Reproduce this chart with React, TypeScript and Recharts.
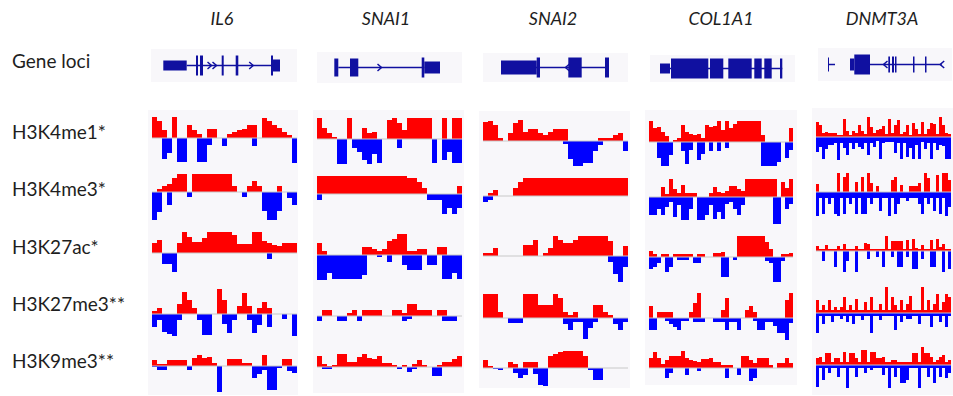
import React from "react";
import { BarChart, Bar, XAxis, YAxis, ReferenceLine, ReferenceArea, ComposedChart, Scatter, Line } from "recharts";

const genes = ["IL6", "SNAI1", "SNAI2", "COL1A1", "DNMT3A"];
const marks = ["H3K4me1*", "H3K4me3*", "H3K27ac*", "H3K27me3**", "H3K9me3**"];

// ---- signal per bin: up = red (positive), down = blue (negative, magnitude) ----
// IL6
const il6K4me1Up = [21,17,8,0,21,0,0,13,8,4,0,9,9,0,0,4,6,8,9,13,13,0,20,17,13,10,6,3,0];
const il6K4me1Down = [0,0,21,15,0,24,24,0,0,24,24,7,0,0,8,0,0,0,0,0,8,0,0,0,0,0,0,0,25];
const il6K4me3Up = [0,3,6,8,14,18,18,0,18,18,18,18,18,18,18,18,6,0,0,6,11,6,0,0,0,6,0,0,0];
const il6K4me3Down = [28,20,0,13,0,0,0,5,0,0,0,0,0,0,0,0,0,0,5,0,0,0,19,28,28,19,0,6,13];
const il6K27acUp = [10,13,0,0,0,10,21,16,11,11,15,21,21,21,21,21,18,9,9,9,21,21,12,10,8,7,10,10,10];
const il6K27acDown = [0,0,11,11,19,0,0,0,0,0,0,0,0,0,0,0,0,0,0,0,0,0,0,6,0,0,0,0,0];
const il6K27me3Up = [3,6,0,0,0,10,22,14,6,0,0,0,0,25,14,0,0,8,21,8,0,6,12,6,0,0,0,0,0];
const il6K27me3Down = [13,6,18,20,22,6,0,0,0,6,21,21,0,0,10,19,6,0,0,6,19,11,0,13,0,0,5,0,22];
const il6K9me3Up = [6,2,2,6,6,6,6,0,8,11,8,9,3,0,0,7,7,7,3,3,0,0,11,0,0,0,7,7,0];
const il6K9me3Down = [1,4,4,0,0,0,0,4,0,0,0,0,0,26,0,0,0,0,0,0,12,8,4,24,24,2,0,5,7];

// SNAI1
const snai1K4me1Up = [21,11,6,2,0,0,21,0,0,11,6,7,0,0,19,21,16,9,21,21,21,21,21,0,0,21,0,21,21];
const snai1K4me1Down = [0,0,0,0,25,25,0,9,13,21,25,15,24,0,0,0,9,0,0,0,0,0,0,24,0,21,13,24,24];
const snai1K4me3Up = [18,18,18,18,18,18,18,18,18,18,18,18,18,18,18,18,18,18,16,16,12,6,0,0,0,0,0,0,8];
const snai1K4me3Down = [6,0,0,0,0,0,0,0,0,0,0,0,0,0,0,0,0,0,0,0,0,0,6,6,6,20,14,20,14];
const snai1K27acUp = [12,4,0,0,0,0,0,0,0,8,8,6,4,6,14,16,21,21,4,4,6,6,0,0,8,8,0,0,0];
const snai1K27acDown = [25,25,18,24,24,24,24,24,24,20,0,0,2,0,7,0,0,10,15,15,15,0,10,10,0,24,24,18,24];
const snai1K27me3Up = [0,6,6,0,0,0,3,6,0,6,6,6,6,0,0,6,6,3,12,12,6,6,6,0,6,6,0,0,0];
const snai1K27me3Down = [5,0,0,0,5,5,0,0,5,0,0,0,0,0,0,0,0,5,3,0,0,0,0,0,0,5,5,5,0];
const snai1K9me3Up = [11,3,1,2,13,13,5,5,10,13,9,8,11,4,4,2,0,2,0,3,7,2,0,0,2,5,5,8,11];
const snai1K9me3Down = [0,2,2,0,0,0,0,0,0,0,0,0,0,0,0,0,2,0,5,2,0,0,0,9,9,0,0,0,0];

// SNAI2
const snai2K4me1Up = [19,20,16,3,0,8,18,21,9,12,12,8,6,9,12,12,12,0,0,0,0,0,0,3,3,3,6,8,0];
const snai2K4me1Down = [0,0,0,0,0,0,0,0,0,0,0,0,0,0,0,0,3,18,25,25,22,22,10,4,0,0,0,0,10];
const snai2K4me3Up = [0,3,6,0,0,0,8,14,18,18,18,18,18,18,18,18,18,18,18,18,18,18,18,18,18,18,18,18,18];
const snai2K4me3Down = [6,4,0,0,0,0,0,0,0,0,0,0,0,0,0,0,0,0,0,0,0,0,0,0,0,0,0,0,0];
const snai2K27acUp = [3,3,8,0,0,0,0,0,11,11,16,0,3,8,20,16,13,13,16,20,20,20,20,20,20,15,0,0,10];
const snai2K27acDown = [0,0,0,0,0,0,0,0,0,0,0,0,0,0,0,0,0,0,0,0,0,0,0,0,0,6,18,26,11];
const snai2K27me3Up = [24,24,24,6,0,0,0,0,24,24,24,13,13,13,24,20,6,3,6,0,0,0,13,13,6,3,0,0,0];
const snai2K27me3Down = [0,0,0,0,0,5,5,5,0,0,0,0,0,0,0,0,6,12,4,4,21,10,4,0,0,0,6,12,4];
const snai2K9me3Up = [8,2,0,0,0,6,4,0,6,6,6,0,0,12,14,16,17,17,17,17,12,0,0,0,0,0,0,0,0];
const snai2K9me3Down = [0,0,1,2,0,0,5,10,7,0,6,17,18,0,0,0,0,0,0,0,0,2,12,12,0,0,0,0,0];

// COL1A1
const col1a1K4me1Up = [21,14,15,10,6,0,2,4,17,10,8,7,8,4,17,15,16,21,12,21,14,18,21,21,21,21,21,21,7,0,0,0,0,0,0,14];
const col1a1K4me1Down = [0,0,16,24,24,13,0,0,9,22,8,0,18,12,0,9,0,9,0,6,0,0,0,0,0,0,0,0,24,24,24,24,20,0,16,8];
const col1a1K4me3Up = [0,0,0,10,3,18,8,4,12,4,4,4,0,0,0,4,10,5,4,6,11,11,8,6,18,18,18,18,18,18,18,18,0,15,9,18];
const col1a1K4me3Down = [18,18,12,18,10,5,20,8,23,23,12,0,23,23,18,8,22,15,22,7,5,12,18,8,0,0,0,0,0,0,0,27,27,0,12,7];
const col1a1K27acUp = [6,3,0,3,3,0,3,3,3,3,3,0,3,3,0,0,4,4,5,0,0,0,21,21,21,21,21,21,21,15,8,0,0,3,3,4];
const col1a1K27acDown = [12,10,6,0,15,10,0,3,3,3,0,6,6,0,0,0,0,0,20,20,0,3,0,0,0,0,0,0,0,4,6,25,25,4,0,0];
const col1a1K27me3Up = [12,0,6,6,6,6,0,0,0,0,6,15,25,0,0,0,0,0,8,20,0,0,0,0,8,12,6,0,0,0,0,0,0,0,18,25];
const col1a1K27me3Down = [12,12,0,0,3,6,9,12,3,3,0,4,4,4,0,0,4,4,4,12,4,4,12,0,0,0,3,12,12,4,4,8,15,15,22,5];
const col1a1K9me3Up = [10,16,10,4,8,12,12,12,17,10,8,7,6,9,9,10,6,6,3,3,3,0,0,12,12,8,5,10,10,10,3,0,5,5,10,5];
const col1a1K9me3Down = [0,0,0,0,10,5,0,0,0,7,0,0,3,0,0,0,0,0,0,10,0,0,7,0,0,13,10,0,0,0,0,0,0,0,0,0];

// DNMT3A
const dnmt3aK4me1Up = [15,12,4,5,4,4,4,2,2,18,6,2,6,4,12,6,3,20,10,4,7,8,11,3,18,4,12,17,3,5,12,2,14,8,3,15,3,8,14,13,3,20,12,4,3];
const dnmt3aK4me1Down = [15,10,22,12,8,8,6,23,6,11,18,6,12,6,10,12,6,18,6,10,4,22,6,5,5,5,16,6,22,6,20,11,22,8,22,5,12,6,22,6,13,8,9,22,22];
const dnmt3aK4me3Up = [8,0,0,0,0,0,0,19,0,15,19,0,0,10,0,15,0,19,9,0,6,0,0,0,0,12,15,0,7,0,0,6,6,6,9,0,19,14,0,0,17,0,19,19,12];
const dnmt3aK4me3Down = [24,6,22,6,12,6,22,24,6,22,6,12,6,22,6,22,22,6,12,6,6,19,6,6,24,6,22,12,6,6,9,6,6,6,12,22,6,12,6,19,6,22,6,24,15];
const dnmt3aK27acUp = [5,2,2,6,2,2,2,5,2,7,2,2,2,5,2,2,8,7,2,2,2,2,2,15,2,10,10,10,10,2,11,2,12,3,2,6,2,2,11,2,12,4,7,2,2];
const dnmt3aK27acDown = [0,0,10,0,0,0,16,0,0,21,10,0,0,21,0,0,0,8,0,0,6,0,16,0,0,6,0,16,16,0,6,0,18,18,0,8,0,0,16,16,0,0,21,0,18];
const dnmt3aK27me3Up = [13,3,8,3,13,3,6,3,6,16,3,8,3,14,3,3,11,3,16,3,3,9,3,26,3,16,8,3,13,3,9,17,3,3,3,26,3,13,3,9,19,3,11,19,16];
const dnmt3aK27me3Down = [20,3,11,3,3,9,3,3,6,3,9,3,11,3,3,7,3,3,20,3,3,7,3,3,3,3,17,3,9,3,6,6,3,3,11,3,3,3,14,3,3,9,3,14,3];
const dnmt3aK9me3Up = [7,8,3,12,12,3,7,7,3,13,3,12,12,7,3,15,15,3,13,13,7,7,8,3,3,5,5,3,3,3,3,3,12,12,3,18,12,12,8,3,5,8,10,3,5];
const dnmt3aK9me3Down = [22,3,15,3,8,3,3,12,3,3,23,3,3,12,3,3,8,3,5,3,3,3,10,3,23,3,12,3,18,18,15,3,3,3,23,3,3,12,3,18,3,12,3,13,8];

// ---- gene models: exons [start, end, half height]; introns [start, end]; strand chevrons [x, dir] ----
const il6Exons = [[12.3,35.7,5],[45,47,10],[49,52,10],[70.7,72.7,10],[84.7,87.3,10],[120,122,10],[122,129,6]];
const il6Introns = [[35.7,122]];
const il6Chevrons = [[59,1],[64,1],[100.7,1]];
const snai1Exons = [[17.3,21.3,9],[33,41.3,9],[104.7,107.3,10],[107.3,123,6]];
const snai1Introns = [[21.3,107.3]];
const snai1Chevrons = [[63,1]];
const snai2Exons = [[18,53.7,7],[53.7,57,10],[85.3,98.7,10],[122,126,10]];
const snai2Introns = [[18,122]];
const snai2Chevrons = [[84,-1]];
const col1a1Exons = [[10,20,5],[21,58.3,10],[60,73.3,10],[78.3,101.7,10],[104.3,111.7,10],[114.3,121.7,10],[130,132.3,10]];
const col1a1Introns = [[20,132.3]];
const col1a1Chevrons: number[][] = [];
const dnmt3aExons = [[10,11,7],[32,36.3,6],[36.3,52,10],[70.3,72,8],[74,76,8],[77,78.5,8],[95,96.5,8],[107,108.5,8]];
const dnmt3aIntrons = [[10,17],[52,123.7]];
const dnmt3aChevrons = [[67,-1],[123.7,-1]];

const tracks = [
  [[il6K4me1Up, il6K4me1Down], [il6K4me3Up, il6K4me3Down], [il6K27acUp, il6K27acDown], [il6K27me3Up, il6K27me3Down], [il6K9me3Up, il6K9me3Down]],
  [[snai1K4me1Up, snai1K4me1Down], [snai1K4me3Up, snai1K4me3Down], [snai1K27acUp, snai1K27acDown], [snai1K27me3Up, snai1K27me3Down], [snai1K9me3Up, snai1K9me3Down]],
  [[snai2K4me1Up, snai2K4me1Down], [snai2K4me3Up, snai2K4me3Down], [snai2K27acUp, snai2K27acDown], [snai2K27me3Up, snai2K27me3Down], [snai2K9me3Up, snai2K9me3Down]],
  [[col1a1K4me1Up, col1a1K4me1Down], [col1a1K4me3Up, col1a1K4me3Down], [col1a1K27acUp, col1a1K27acDown], [col1a1K27me3Up, col1a1K27me3Down], [col1a1K9me3Up, col1a1K9me3Down]],
  [[dnmt3aK4me1Up, dnmt3aK4me1Down], [dnmt3aK4me3Up, dnmt3aK4me3Down], [dnmt3aK27acUp, dnmt3aK27acDown], [dnmt3aK27me3Up, dnmt3aK27me3Down], [dnmt3aK9me3Up, dnmt3aK9me3Down]],
];
const loci = [
  [il6Exons, il6Introns, il6Chevrons],
  [snai1Exons, snai1Introns, snai1Chevrons],
  [snai2Exons, snai2Introns, snai2Chevrons],
  [col1a1Exons, col1a1Introns, col1a1Chevrons],
  [dnmt3aExons, dnmt3aIntrons, dnmt3aChevrons],
];

// layout
const colX = [152, 317.3, 483.3, 649.3, 816.3];
const colW = [145, 145, 145, 144, 135];
const baseY = [
  [137.7, 192, 252.7, 314, 366],
  [139, 194.3, 255, 315.7, 366.7],
  [141, 195.7, 256, 317.7, 368.3],
  [142.3, 196.7, 256.7, 318.3, 368.3],
  [136.7, 192.3, 251, 312.7, 365],
];
const panels = [[148, 110, 150, 285], [313, 110, 151, 283], [479, 111, 151, 277], [645, 110, 152, 275], [812, 108, 141, 287]];
const locusBox = [[151, 49, 146, 33], [317, 52, 145, 31], [483, 53, 145, 29], [650, 55, 145, 27], [818, 48, 134, 33]];
const titleX = [222, 386, 553, 721, 882];
const rowY = [131, 188, 246, 303, 360];

const RED = "#ff0000";
const BLUE = "#0000ff";
const GENE = "#1010a0";
const PANEL = "#f8f7fa";
const FONT = "Lato, 'Open Sans', sans-serif";

function Track({ up, down, x, base, w }: { up: number[]; down: number[]; x: number; base: number; w: number }) {
  const hi = Math.max(1, ...up);
  const lo = Math.max(1, ...down);
  const data = up.map((u, i) => ({ i, up: u, down: -down[i] }));
  return (
    <div className="trk" style={{ position: "absolute", left: x, top: base - hi }}>
      <BarChart width={w} height={hi + lo} data={data} margin={{ top: 0, right: 0, bottom: 0, left: 0 }}
        stackOffset="sign" barCategoryGap={0} barGap={0}>
        <XAxis dataKey="i" hide />
        <YAxis hide domain={[-lo, hi]} />
        <ReferenceLine y={0} stroke="#c8c8c8" />
        <Bar dataKey="up" stackId="s" fill={RED} isAnimationActive={false} />
        <Bar dataKey="down" stackId="s" fill={BLUE} isAnimationActive={false} />
      </BarChart>
    </div>
  );
}

function Locus({ exons, introns, chevrons, box }: any) {
  const [left, top, w, h] = box;
  const pts = chevrons.map(([x, dir]: number[]) => ({ x, y: 0, dir }));
  const chev = (p: any) => {
    const d = p.payload.dir;
    return (
      <path d={`M${p.cx - 2.5 * d},${p.cy - 3.5} L${p.cx + 1.5 * d},${p.cy} L${p.cx - 2.5 * d},${p.cy + 3.5}`}
        stroke={GENE} strokeWidth={1.5} fill="none" />
    );
  };
  return (
    <div style={{ position: "absolute", left, top, background: PANEL }}>
      <ComposedChart width={w} height={h} margin={{ top: 0, right: 0, bottom: 0, left: 0 }}>
        <XAxis type="number" dataKey="x" domain={[0, w]} hide allowDataOverflow />
        <YAxis type="number" dataKey="y" domain={[-h / 2, h / 2]} hide allowDataOverflow />
        {introns.map(([a, b]: number[], k: number) => (
          <Line key={"i" + k} data={[{ x: a, y: 0 }, { x: b, y: 0 }]} dataKey="y" stroke={GENE} strokeWidth={1.5}
            dot={false} activeDot={false} isAnimationActive={false} />
        ))}
        {exons.map(([a, b, hh]: number[], k: number) => (
          <ReferenceArea key={"e" + k} x1={a} x2={b} y1={-hh} y2={hh} fill={GENE} fillOpacity={1} stroke="none" />
        ))}
        {pts.length > 0 && <Scatter data={pts} dataKey="y" shape={chev} isAnimationActive={false} />}
      </ComposedChart>
    </div>
  );
}

export default function App() {
  return (
    <div style={{ position: "absolute", left: 0, top: 0, width: 953, height: 396, background: "#fff", fontFamily: FONT, color: "#1e1e1e", overflow: "hidden" }}>
      <style>{".trk rect{shape-rendering:crispEdges}"}</style>
      {panels.map(([x, y, w, h], k) => (
        <div key={"p" + k} style={{ position: "absolute", left: x, top: y, width: w, height: h, background: PANEL }} />
      ))}
      {genes.map((g, c) => (
        <div key={g} style={{ position: "absolute", left: titleX[c], top: 18, transform: "translate(-50%,-50%)", fontStyle: "italic", fontSize: 18, whiteSpace: "nowrap" }}>{g}</div>
      ))}
      <div style={{ position: "absolute", left: 12, top: 60, transform: "translateY(-50%)", fontSize: 19, whiteSpace: "nowrap" }}>Gene loci</div>
      {marks.map((m, r) => (
        <div key={m} style={{ position: "absolute", left: 12, top: rowY[r], transform: "translateY(-50%)", fontSize: 19, whiteSpace: "nowrap" }}>{m}</div>
      ))}
      {loci.map(([exons, introns, chevrons], c) => (
        <Locus key={"l" + c} exons={exons} introns={introns} chevrons={chevrons} box={locusBox[c]} />
      ))}
      {tracks.map((col, c) =>
        col.map(([up, down], r) => (
          <Track key={c + "-" + r} up={up} down={down} x={colX[c]} base={baseY[c][r]} w={colW[c]} />
        ))
      )}
    </div>
  );
}
